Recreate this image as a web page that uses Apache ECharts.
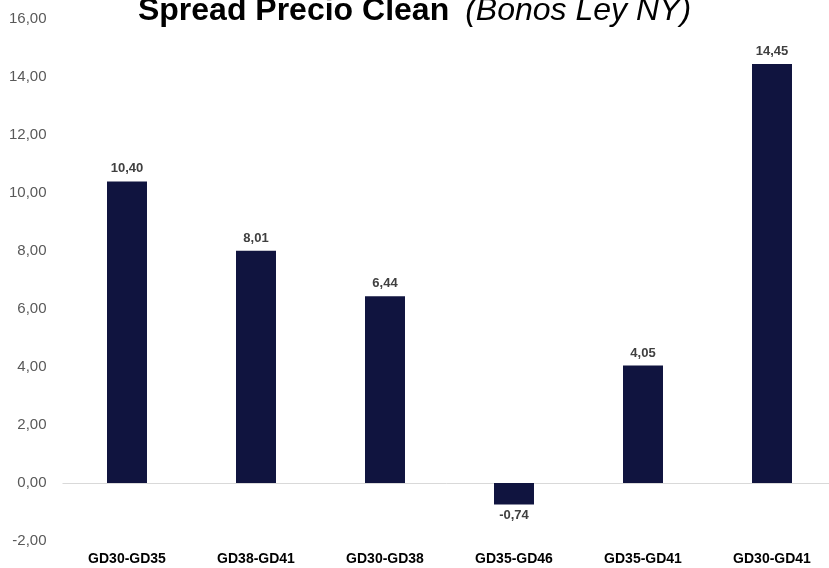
<!DOCTYPE html>
<html>
<head>
<meta charset="utf-8">
<script src="https://cdn.jsdelivr.net/npm/echarts@6/dist/echarts.min.js"></script>
<style>
html,body{margin:0;padding:0;background:#fff;}
#chart{width:829px;height:568px;}
</style>
</head>
<body>
<div id="chart"></div>
<script>
var categories = ['GD30-GD35', 'GD38-GD41', 'GD30-GD38', 'GD35-GD46', 'GD35-GD41', 'GD30-GD41'];
var spreadValues = [10.40, 8.01, 6.44, -0.74, 4.05, 14.45];
var yTicks = [-2, 0, 2, 4, 6, 8, 10, 12, 14, 16];

function fmt(v) { return Number(v).toFixed(2).replace('.', ','); }

var chart = echarts.init(document.getElementById('chart'), null, {renderer: 'canvas'});
var barData = spreadValues.map(function (v) {
  return {
    value: v,
    label: v < 0 ? {position: 'bottom', distance: 4} : {position: 'top', distance: 6}
  };
});

chart.setOption({
  animation: false,
  backgroundColor: '#ffffff',
  title: {
    left: 'center',
    top: -10,
    text: '{b|Spread Precio Clean}{i|(Bonos Ley NY)}',
    textStyle: {
      rich: {
        b: {fontFamily: 'Liberation Sans, Arial, sans-serif', fontWeight: 'bold', fontSize: 32, color: '#000000'},
        i: {fontFamily: 'Liberation Sans, Arial, sans-serif', fontStyle: 'italic', fontWeight: 'normal', fontSize: 32, color: '#000000', padding: [0, 0, 0, 16]}
      }
    }
  },
  grid: {left: 62.5, width: 774, top: 19, bottom: 27, containLabel: false, outerBoundsMode: 'none'},
  xAxis: {
    type: 'category',
    data: categories,
    axisLine: {show: false, onZero: false},
    axisTick: {show: false},
    axisLabel: {
      margin: 11,
      fontFamily: 'Liberation Sans, Arial, sans-serif',
      fontWeight: 'bold',
      fontSize: 14,
      color: '#000000'
    },
    splitLine: {show: false}
  },
  yAxis: {
    type: 'value',
    min: yTicks[0],
    max: yTicks[yTicks.length - 1],
    interval: 2,
    axisLine: {show: false},
    axisTick: {show: false},
    splitLine: {show: false},
    axisLabel: {
      margin: 16,
      fontFamily: 'Liberation Sans, Arial, sans-serif',
      fontSize: 15,
      color: '#595959',
      formatter: fmt
    }
  },
  series: [{
    type: 'bar',
    data: barData,
    barWidth: '31%',
    itemStyle: {color: '#10143f'},
    label: {
      show: true,
      fontFamily: 'Liberation Sans, Arial, sans-serif',
      fontWeight: 'bold',
      fontSize: 13,
      color: '#404040',
      formatter: function (p) { return fmt(p.value); }
    },
    markLine: {
      silent: true,
      symbol: 'none',
      label: {show: false},
      lineStyle: {color: '#d9d9d9', width: 1, type: 'solid'},
      data: [{yAxis: 0}],
      z: 1
    },
    z: 2
  }]
});
</script>
</body>
</html>
